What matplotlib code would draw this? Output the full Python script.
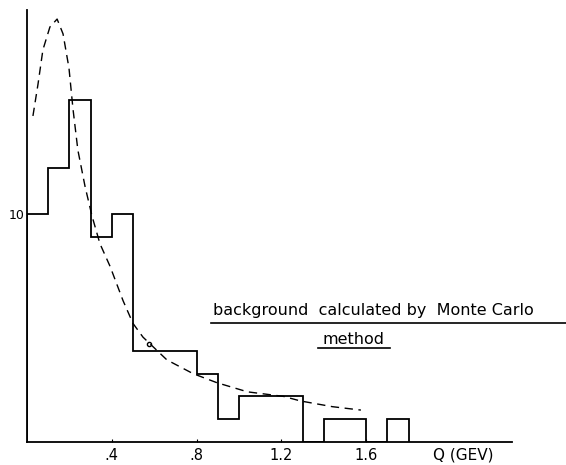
import numpy as np
import matplotlib
matplotlib.use("Agg")
import matplotlib.pyplot as plt

# histogram: bin edges in Q (GeV) and counts
edges = [0.0, 0.1, 0.2, 0.3, 0.4, 0.5, 0.6, 0.7, 0.8, 0.9, 1.0, 1.1, 1.2, 1.3, 1.4, 1.5, 1.6, 1.7, 1.8]
counts = [10, 12, 15, 9, 10, 4, 4, 4, 3, 1, 2, 2, 2, 0, 1, 1, 0, 1]

# Monte Carlo background curve
bg_q = [0.028, 0.052, 0.075, 0.108, 0.142, 0.17, 0.198, 0.217, 0.24, 0.274, 0.307, 0.344,
        0.392, 0.453, 0.5, 0.547, 0.66, 0.783, 0.896, 1.04, 1.21, 1.29, 1.44, 1.575]
bg_n = [14.3, 15.7, 17.2, 18.2, 18.55, 17.9, 16.4, 14.6, 12.8, 11.2, 9.9, 8.7,
        7.7, 6.2, 5.2, 4.6, 3.6, 3.0, 2.6, 2.2, 2.0, 1.8, 1.55, 1.4]

W, H = 566, 465
fig = plt.figure(figsize=(W/100, H/100), dpi=100)
ax = fig.add_axes([27/W, 23/H, 485/W, 432/H])

ax.stairs(counts, edges, color="black", lw=1.3, baseline=0)
ax.plot(bg_q, bg_n, color="black", lw=1.0, dashes=(6, 4))
ax.plot([0.577], [4.3], marker="o", ms=3, mfc="none", mec="black", mew=1.0)

ax.set_xlim(0, 485/212)
ax.set_ylim(0, 432/22.8)

for s in ["top", "right"]:
    ax.spines[s].set_visible(False)
ax.spines["left"].set_linewidth(1.3)
ax.spines["bottom"].set_linewidth(1.3)

ax.set_xticks([0.4, 0.8, 1.2, 1.6])
ax.set_xticklabels([".4", ".8", "1.2", "1.6"], fontsize=10.5)
ax.set_yticks([10])
ax.set_yticklabels(["10"], fontsize=9)
ax.tick_params(axis="x", direction="in", length=2, pad=4)
ax.tick_params(axis="y", length=0, pad=2)

def px(x, y):
    return x / W, 1 - y / H

fig.text(*px(433, 455), "Q (GEV)", fontsize=11, ha="left", va="center")
fig.text(*px(373, 310), "background  calculated by  Monte Carlo", fontsize=11.5,
         ha="center", va="center")
fig.text(*px(354, 339), "method", fontsize=11.5, ha="center", va="center")

# underlines
fig.add_artist(plt.Line2D([211/W, 1.0], [1 - 323/H, 1 - 323/H], color="black", lw=1.2))
fig.add_artist(plt.Line2D([318/W, 390/W], [1 - 348/H, 1 - 348/H], color="black", lw=1.2))

fig.savefig("out.png", dpi=100)
